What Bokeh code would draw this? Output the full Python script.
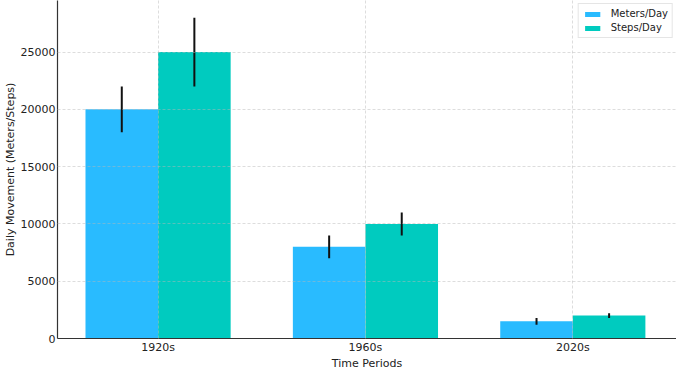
import numpy as np
from bokeh.plotting import figure
from bokeh.models import ColumnDataSource, FixedTicker, Range1d, Legend, LegendItem
from bokeh.embed import file_html
from bokeh.resources import INLINE

categories = ["1920s", "1960s", "2020s"]
meters = [20000, 8000, 1500]
meters_err = [2000, 1000, 300]
steps = [25000, 10000, 2000]
steps_err = [3000, 1000, 200]
series_names = ["Meters/Day", "Steps/Day"]
y_ticks = [0, 5000, 10000, 15000, 20000, 25000]

BW = 0.35
FONT = "DejaVu Sans"

x = np.arange(len(categories), dtype=float)
src_m = ColumnDataSource(dict(x=x - BW / 2, top=meters,
                              lo=np.array(meters) - np.array(meters_err),
                              hi=np.array(meters) + np.array(meters_err)))
src_s = ColumnDataSource(dict(x=x + BW / 2, top=steps,
                              lo=np.array(steps) - np.array(steps_err),
                              hi=np.array(steps) + np.array(steps_err)))

p = figure(width=676, height=372, output_backend="svg", toolbar_location=None,
           x_range=Range1d(-0.485, 2.5), y_range=Range1d(0, 29500),
           min_border_left=0, min_border_right=0, min_border_top=0, min_border_bottom=0)
p.outline_line_color = None

rm = p.vbar(x="x", top="top", width=BW, source=src_m, fill_color="#29bbff", line_color=None)
rs = p.vbar(x="x", top="top", width=BW, source=src_s, fill_color="#00cbbf", line_color=None)
p.segment(x0="x", y0="lo", x1="x", y1="hi", source=src_m, line_color="#111111", line_width=2)
p.segment(x0="x", y0="lo", x1="x", y1="hi", source=src_s, line_color="#111111", line_width=2)

p.xaxis.ticker = FixedTicker(ticks=list(x))
p.xaxis.major_label_overrides = {float(i): c for i, c in enumerate(categories)}
p.xaxis.major_label_overrides.update({int(i): c for i, c in enumerate(categories)})
p.yaxis.ticker = FixedTicker(ticks=y_ticks)
p.yaxis.formatter.use_scientific = False

for ax in (p.xaxis, p.yaxis):
    ax.major_tick_out = 0
    ax.major_tick_in = 0
    ax.minor_tick_out = 0
    ax.minor_tick_in = 0
    ax.axis_line_color = "#333333"
    ax.axis_line_width = 1.2
    ax.major_label_text_font = FONT
    ax.major_label_text_font_size = "11px"
    ax.major_label_text_color = "#222222"
    ax.axis_label_text_font = FONT
    ax.axis_label_text_font_size = "11px"
    ax.axis_label_text_font_style = "normal"
    ax.axis_label_text_color = "#222222"

p.xaxis.axis_label = "Time Periods"
p.yaxis.axis_label = "Daily Movement (Meters/Steps)"
p.xaxis.major_label_standoff = 2
p.xaxis.axis_label_standoff = 0
p.yaxis.major_label_standoff = 2
p.yaxis.axis_label_standoff = 1

for g in (p.xgrid, p.ygrid):
    g.grid_line_color = "#b8b8b8"
    g.grid_line_alpha = 0.6
    g.grid_line_dash = "3 2"
    g.grid_line_width = 0.8
    g.level = "overlay"
p.xgrid.ticker = FixedTicker(ticks=list(x))
p.ygrid.ticker = FixedTicker(ticks=y_ticks)

legend = Legend(items=[LegendItem(label=series_names[0], renderers=[rm]),
                       LegendItem(label=series_names[1], renderers=[rs])],
                location="top_right")
legend.label_text_font = FONT
legend.label_text_font_size = "10px"
legend.label_text_color = "#222222"
legend.glyph_width = 19
legend.glyph_height = 6
legend.label_height = 10
legend.spacing = 3
legend.padding = 4
legend.margin = 3
legend.label_standoff = 9
legend.border_line_color = "#cccccc"
legend.border_line_width = 1
legend.background_fill_alpha = 0.9
p.add_layout(legend)

open("out.html", "w").write(file_html(p, INLINE))
